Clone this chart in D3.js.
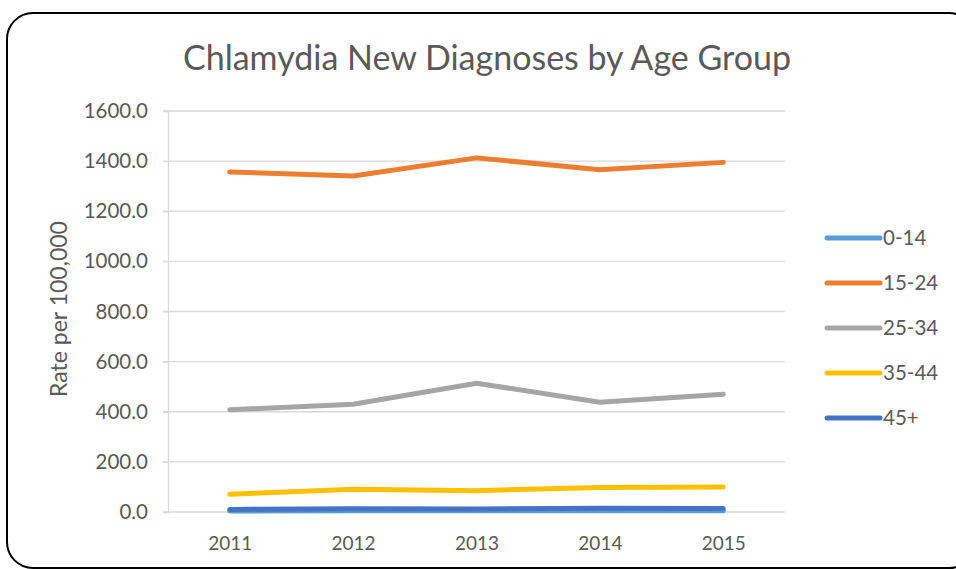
<!DOCTYPE html>
<html>
<head>
<meta charset="utf-8">
<script src="https://cdn.jsdelivr.net/npm/d3@7"></script>
<style>
body { margin: 0; background: #fff; }
text { font-family: Lato, "Open Sans", sans-serif; fill: #595959; }
</style>
</head>
<body>
<script>
var width = 956;
var height = 569;

// data
var years = ["2011", "2012", "2013", "2014", "2015"];
var groups = ["0-14", "15-24", "25-34", "35-44", "45+"];
var colors = ["#5B9BD5", "#ED7D31", "#A5A5A5", "#FFC000", "#4472C4"];
var age0_14 = [4, 5, 5, 5, 5];
var age15_24 = [1357, 1341, 1413, 1366, 1395];
var age25_34 = [408, 430, 514, 438, 470];
var age35_44 = [71, 91, 85, 98, 100];
var age45plus = [10, 13, 12, 15, 14];
var yTicks = [0, 200, 400, 600, 800, 1000, 1200, 1400, 1600];

var series = [age0_14, age15_24, age25_34, age35_44, age45plus];

var svg = d3.select("body").append("svg")
	.attr("width", width)
	.attr("height", height);

// chart border
svg.append("rect")
	.attr("x", 7).attr("y", 13)
	.attr("width", 968).attr("height", 555)
	.attr("rx", 26).attr("ry", 26)
	.attr("fill", "#fff")
	.attr("stroke", "#000")
	.attr("stroke-width", 2);

var plotLeft = 168, plotRight = 785, plotTop = 111, plotBottom = 512;

var x = d3.scalePoint().domain(years).range([plotLeft, plotRight]).padding(0.5);
var y = d3.scaleLinear().domain([0, 1600]).range([plotBottom, plotTop]);

svg.append("text")
	.attr("x", 487).attr("y", 70)
	.attr("text-anchor", "middle")
	.style("font-size", "34px")
	.text("Chlamydia New Diagnoses by Age Group");

// gridlines
svg.append("g").selectAll("line")
	.data(yTicks)
	.enter().append("line")
	.attr("x1", plotLeft - 5).attr("x2", plotRight)
	.attr("y1", function(d) { return y(d); })
	.attr("y2", function(d) { return y(d); })
	.attr("stroke", "#d9d9d9")
	.attr("stroke-width", 1.3);

// y axis
var yAxis = svg.append("g")
	.attr("transform", "translate(" + plotLeft + ",0)")
	.call(d3.axisLeft(y).tickValues(yTicks).tickFormat(d3.format(".1f")).tickSize(5).tickPadding(15));
yAxis.selectAll("path, line").attr("stroke", "#d9d9d9").attr("stroke-width", 1.3);
yAxis.selectAll("text").style("font-size", "20.5px").attr("fill", "#595959").style("font-family", "Lato, sans-serif");

// x axis labels
var xAxis = svg.append("g")
	.attr("transform", "translate(0," + plotBottom + ")")
	.call(d3.axisBottom(x).tickSize(0).tickPadding(25));
xAxis.select(".domain").remove();
xAxis.selectAll("text").style("font-size", "19px").attr("fill", "#595959").style("font-family", "Lato, sans-serif");

svg.append("text")
	.attr("transform", "translate(67,309) rotate(-90)")
	.attr("text-anchor", "middle")
	.style("font-size", "23px")
	.text("Rate per 100,000");

var line = d3.line()
	.x(function(d, i) { return x(years[i]); })
	.y(function(d) { return y(d); });

svg.append("g").selectAll("path")
	.data(series)
	.enter().append("path")
	.attr("d", line)
	.attr("fill", "none")
	.attr("stroke", function(d, i) { return colors[i]; })
	.attr("stroke-width", 5)
	.attr("stroke-linecap", "round")
	.attr("stroke-linejoin", "round");

// legend
var legend = svg.append("g").selectAll("g")
	.data(groups)
	.enter().append("g")
	.attr("transform", function(d, i) { return "translate(827," + (238 + i * 45) + ")"; });
legend.append("line")
	.attr("x1", 0).attr("x2", 53)
	.attr("stroke", function(d, i) { return colors[i]; })
	.attr("stroke-width", 5)
	.attr("stroke-linecap", "round");
legend.append("text")
	.attr("x", 56).attr("y", 7)
	.style("font-size", "20.5px")
	.text(function(d) { return d; });
</script>
</body>
</html>
